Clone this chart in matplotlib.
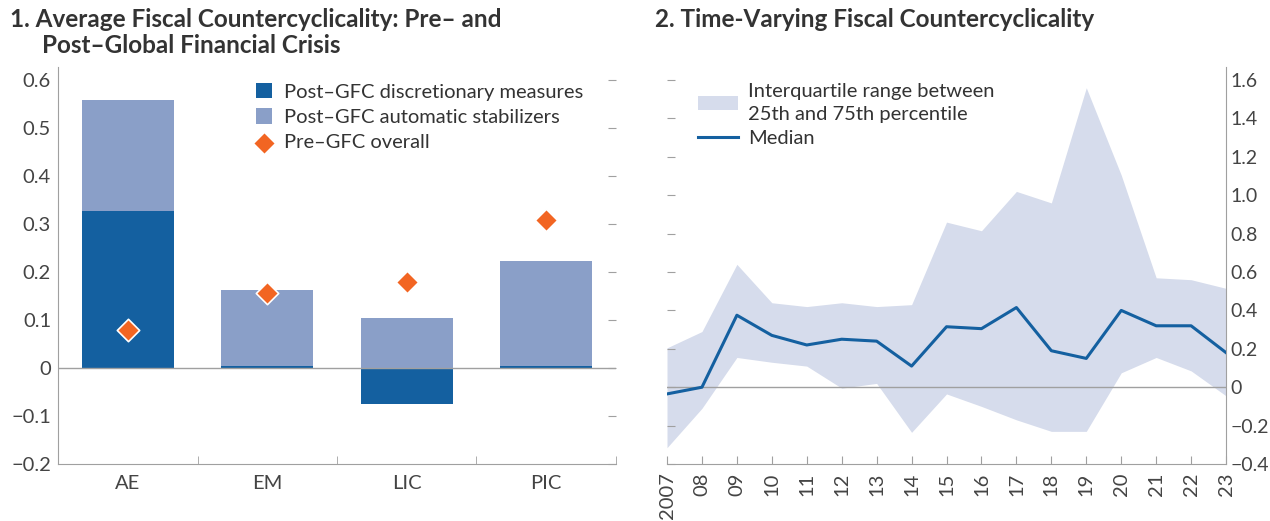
import matplotlib
matplotlib.use("Agg")
import matplotlib.pyplot as plt
import numpy as np
from matplotlib.ticker import FixedLocator

plt.rcParams['font.family'] = ['Lato', 'DejaVu Sans']

# ---- Panel 1 data ----
categories = ["AE", "EM", "LIC", "PIC"]
discretionary = [0.327, 0.005, -0.075, 0.005]
automatic = [0.231, 0.158, 0.104, 0.218]
pre_gfc = [0.079, 0.156, 0.179, 0.308]

# ---- Panel 2 data ----
years = list(range(2007, 2024))
year_labels = ["2007", "08", "09", "10", "11", "12", "13", "14", "15", "16",
               "17", "18", "19", "20", "21", "22", "23"]
median = [-0.035, 0.0, 0.375, 0.27, 0.22, 0.25, 0.24, 0.11, 0.315, 0.305,
          0.415, 0.19, 0.15, 0.40, 0.32, 0.32, 0.18]
upper = [0.205, 0.29, 0.64, 0.44, 0.42, 0.44, 0.42, 0.43, 0.86, 0.815,
         1.02, 0.96, 1.56, 1.105, 0.57, 0.56, 0.515]
lower = [-0.315, -0.11, 0.155, 0.13, 0.11, -0.005, 0.02, -0.235, -0.035, -0.10,
         -0.17, -0.23, -0.23, 0.075, 0.155, 0.085, -0.045]

DARK = "#1460a0"
LIGHT = "#8a9fc8"
ORANGE = "#f26522"
BAND = "#d6dcec"
SPINE = "#a0a0a0"
TEXT = "#333333"
TICK = "#444444"
FS = 14.5

fig = plt.figure(figsize=(12.7, 5.21), dpi=100)
ax1 = fig.add_axes([0.0457, 0.1094, 0.4393, 0.762])
ax2 = fig.add_axes([0.5252, 0.1094, 0.4402, 0.762])

# ---------- Panel 1 ----------
x = np.arange(len(categories))
bottoms = [max(d, 0) for d in discretionary]
h1 = ax1.bar(x, discretionary, width=0.66, color=DARK, label="Post–GFC discretionary measures", zorder=2)
h2 = ax1.bar(x, automatic, width=0.66, bottom=bottoms, color=LIGHT, label="Post–GFC automatic stabilizers", zorder=2)
h3 = ax1.scatter(x, pre_gfc, marker="D", s=130, color=ORANGE, edgecolor="white", linewidth=1.2,
                 label="Pre–GFC overall", zorder=4)
ax1.axhline(0, color=SPINE, lw=1.0, zorder=3)
ax1.set_xlim(-0.5, 3.5)
ax1.set_ylim(-0.2, 0.627)
ax1.set_yticks([-0.2, -0.1, 0, 0.1, 0.2, 0.3, 0.4, 0.5, 0.6])
ax1.set_yticklabels(["−0.2", "−0.1", "0", "0.1", "0.2", "0.3", "0.4", "0.5", "0.6"])
ax1.set_xticks(x)
ax1.set_xticklabels(categories)
ax1.xaxis.set_minor_locator(FixedLocator([0.5, 1.5, 2.5, 3.5]))
ax1.tick_params(axis="x", which="major", length=0, labelsize=FS, colors=TICK, pad=8)
ax1.tick_params(axis="x", which="minor", direction="in", length=6, color=SPINE)
ax1.tick_params(axis="y", which="major", left=False, right=True, labelleft=True, labelright=False,
                direction="in", length=6, color=SPINE, labelsize=FS, labelcolor=TICK, pad=5)
for s in ["top", "right"]:
    ax1.spines[s].set_visible(False)
for s in ["left", "bottom"]:
    ax1.spines[s].set_color(SPINE)
ax1.legend(handles=[h1, h2, h3], loc="upper left", bbox_to_anchor=(0.33, 0.995), frameon=False,
           fontsize=FS, handlelength=0.8, handleheight=0.8, handletextpad=0.6, labelspacing=0.38,
           labelcolor=TEXT, borderaxespad=0.3)

# ---------- Panel 2 ----------
ax2.fill_between(years, lower, upper, color=BAND, lw=0,
                 label="Interquartile range between\n25th and 75th percentile", zorder=1)
ax2.plot(years, median, color=DARK, lw=2.2, label="Median", zorder=3)
ax2.axhline(0, color=SPINE, lw=1.0, zorder=2)
ax2.set_xlim(2007, 2023)
ax2.set_ylim(-0.4, 1.668)
yt2 = [-0.4, -0.2, 0, 0.2, 0.4, 0.6, 0.8, 1.0, 1.2, 1.4, 1.6]
ax2.set_yticks(yt2)
ax2.set_yticklabels(["−0.4", "−0.2", "0", "0.2", "0.4", "0.6", "0.8", "1.0", "1.2", "1.4", "1.6"])
ax2.yaxis.tick_right()
ax2.tick_params(axis="y", which="major", left=True, right=False, labelleft=False, labelright=True,
                direction="in", length=6, color=SPINE, labelsize=14, labelcolor=TICK, pad=3)
ax2.set_xticks(years)
ax2.set_xticklabels(year_labels, rotation=90)
ax2.tick_params(axis="x", direction="in", length=6, color=SPINE, labelsize=FS, labelcolor=TICK, pad=6)
for s in ["top", "left"]:
    ax2.spines[s].set_visible(False)
for s in ["right", "bottom"]:
    ax2.spines[s].set_color(SPINE)
leg2 = ax2.legend(loc="upper left", bbox_to_anchor=(0.03, 0.995), frameon=False, fontsize=FS,
                  handlelength=2.0, handletextpad=0.5, labelspacing=0.38, labelcolor=TEXT,
                  borderaxespad=0.3)
leg2.get_texts()[0].set_linespacing(1.4)

# ---------- Titles ----------
fig.text(0.008, 0.985, "1. Average Fiscal Countercyclicality: Pre– and",
         ha="left", va="top", fontsize=17.5, fontweight="bold", color=TEXT)
fig.text(0.033, 0.935, "Post–Global Financial Crisis",
         ha="left", va="top", fontsize=17.5, fontweight="bold", color=TEXT)
fig.text(0.516, 0.985, "2. Time-Varying Fiscal Countercyclicality",
         ha="left", va="top", fontsize=17.5, fontweight="bold", color=TEXT)

fig.savefig("out.png", dpi=100)
